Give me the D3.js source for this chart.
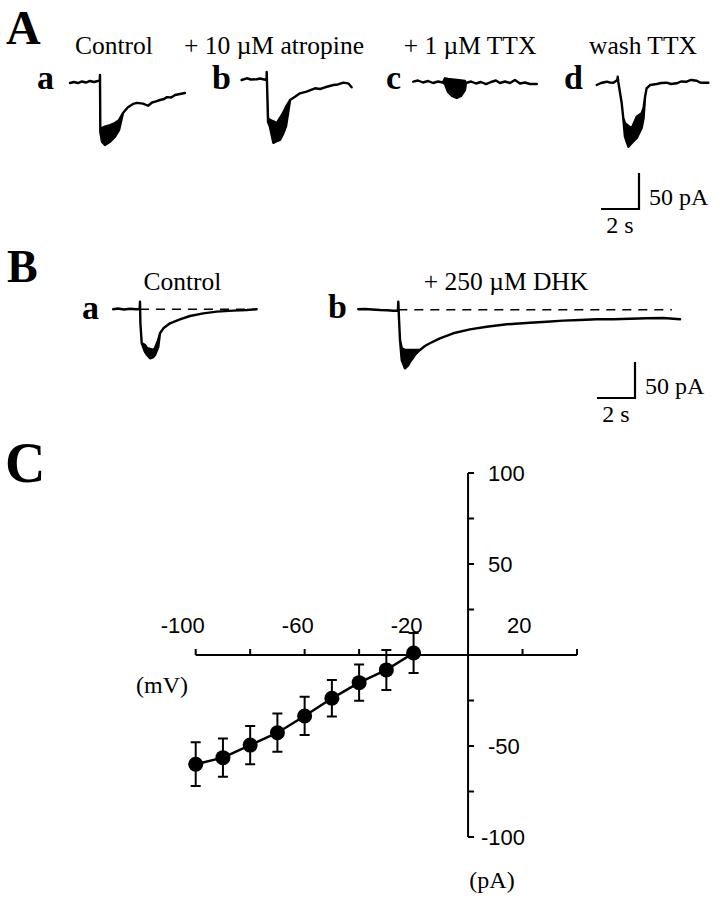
<!DOCTYPE html>
<html><head><meta charset="utf-8">
<script src="https://cdn.jsdelivr.net/npm/d3@7"></script>
<style>body{margin:0;background:#fff}svg{display:block}</style>
</head><body>
<script>
// ---------- DATA ----------
// Traces: [time (s, relative to stimulus), upper current (pA), lower current (pA)]
const traceAa = [[-1.58,-1.4,-1.4],[-1.37,0,0],[-1.16,-1.4,-1.4],[-0.95,0.7,0.7],[-0.74,-0.7,-0.7],[-0.53,1.4,1.4],[-0.32,0,0],[-0.11,1.4,1.4],[-0.01,2.8,2.8],[0,9.7,9.7],[0.016,-64,-69],[0.105,-64,-83],[0.26,-62,-87.5],[0.53,-60,-83],[0.79,-57,-76],[1.0,-53,-67],[1.21,-43,-43],[1.47,-35,-35],[1.74,-30.5,-30.5],[1.95,-29,-29],[2.26,-30,-30],[2.53,-33,-33],[2.74,-28.5,-28.5],[2.95,-27,-27],[3.16,-25,-25],[3.37,-23.6,-23.6],[3.53,-21,-21],[3.74,-21.5,-21.5],[3.95,-18,-18],[4.21,-16.7,-16.7],[4.47,-15.3,-15.3]];
const traceAb = [[-1.32,-0.7,-0.7],[-1.05,1.7,1.7],[-0.83,0,0],[-0.53,0.3,0.3],[-0.35,1.4,1.4],[-0.18,0.3,0.3],[-0.01,-0.7,-0.7],[0,10.4,10.4],[0.07,-53.5,-59],[0.17,-56,-65.5],[0.35,-58,-88],[0.53,-60.5,-85.5],[0.7,-53.5,-84],[0.86,-46.5,-75.7],[1.02,-37.8,-64.6],[1.23,-28.5,-28.5],[1.49,-23.9,-23.9],[1.75,-19.2,-19.2],[2.1,-16.9,-16.9],[2.54,-12.2,-12.2],[2.81,-13.2,-13.2],[3.07,-10.8,-10.8],[3.51,-7.6,-7.6],[3.75,-6.9,-6.9],[4.04,-4.4,-4.4],[4.29,-5.3,-5.3],[4.47,-10.8,-10.8]];
const traceAc = [[-1.67,0.4,0.4],[-1.42,2.1,2.1],[-1.16,-0.7,-0.7],[-0.89,1.4,1.4],[-0.63,-1.4,-1.4],[-0.37,0.7,0.7],[-0.11,-0.7,-0.7],[0,5.1,-2.8],[0.16,4.2,-13.9],[0.37,3.5,-19.4],[0.62,2.8,-22.2],[0.84,2.1,-19.4],[1.05,1.4,-11.1],[1.1,-1.4,-1.4],[1.37,0.7,0.7],[1.63,-2.1,-2.1],[1.89,0,0],[2.16,-2.8,-2.8],[2.42,0,0],[2.68,2.1,2.1],[2.89,-1.4,-1.4],[3.16,0.7,0.7],[3.42,-1.4,-1.4],[3.68,2.8,2.8],[3.95,-2.1,-2.1],[4.21,-0.7,-0.7],[4.47,-2.8,-2.8],[4.83,-2.8,-2.8]];
const traceAd = [[-1.14,-3.5,-3.5],[-0.91,-0.7,-0.7],[-0.61,1.1,1.1],[-0.44,0,0],[-0.26,-0.3,-0.3],[-0.05,3.5,3.5],[-0.03,8.1,8.1],[0,0.7,0.7],[0.18,-28.9,-28.9],[0.26,-49.3,-49.3],[0.35,-56.3,-75.3],[0.53,-60.4,-89.2],[0.71,-63.6,-84],[0.97,-47.5,-77],[1.23,-42.8,-63.2],[1.33,-35.4,-49.3],[1.41,-19.7,-19.7],[1.49,-8.1,-8.1],[1.67,-3.5,-3.5],[2.02,-2.1,-2.1],[2.25,-0.7,-0.7],[2.55,-0.3,-0.3],[2.77,-2.1,-2.1],[3.07,-1.1,-1.1],[3.3,1.4,1.4],[3.6,1.1,1.1],[3.83,3.5,3.5],[4.13,2.5,2.5],[4.3,0,0],[4.47,-0.3,-0.3],[4.74,-0.3,-0.3]];
const traceBa = [[-1.41,0,0],[-1.16,1.1,1.1],[-0.84,-0.3,-0.3],[-0.53,0.7,0.7],[-0.21,0,0],[-0.02,0,0],[0,10.6,10.6],[0.02,-19,-19],[0.09,-46.8,-46.8],[0.26,-49.6,-58.9],[0.37,-53.8,-63.5],[0.53,-55.1,-68],[0.7,-56.5,-66.3],[0.79,-53.8,-63.5],[0.96,-42.6,-52.4],[1.05,-33.3,-33.3],[1.23,-26.4,-26.4],[1.58,-19.4,-19.4],[2.1,-13.9,-13.9],[2.63,-9.3,-9.3],[3.33,-5.6,-5.6],[4.04,-3.3,-3.3],[4.91,-1.9,-1.9],[5.62,-1,-1],[6.14,0,0]];
const traceBb = [[-2.11,0.7,0.7],[-1.75,1.1,1.1],[-1.38,0.4,0.4],[-0.96,-0.3,-0.3],[-0.59,-0.7,-0.7],[-0.26,-1.3,-1.3],[-0.02,-1,-1],[0,11.3,11.3],[0.04,-14.2,-14.2],[0.09,-41.9,-41.9],[0.18,-53,-69.7],[0.35,-55.8,-81.3],[0.53,-55.8,-76.7],[0.62,-55.8,-72],[0.77,-55.8,-67],[0.87,-55.8,-62.8],[1.14,-55.8,-55.8],[1.4,-50.3,-50.3],[1.66,-46.5,-46.5],[2.19,-39.6,-39.6],[2.89,-32.6,-32.6],[3.77,-27.1,-27.1],[4.65,-23.5,-23.5],[5.71,-20.1,-20.1],[6.93,-17.9,-17.9],[7.81,-16.5,-16.5],[8.68,-15.1,-15.1],[9.56,-14.2,-14.2],[10.44,-13.2,-13.2],[11.32,-13.2,-13.2],[12.2,-12.4,-12.4],[13.07,-11.8,-11.8],[13.95,-11.4,-11.4],[14.83,-13.2,-13.2]];
const labelsA = ["Control", "+ 10 \u00b5M atropine", "+ 1 \u00b5M TTX", "wash TTX"];
const lettersA = ["a", "b", "c", "d"];
const labelsB = ["Control", "+ 250 \u00b5M DHK"];
const lettersB = ["a", "b"];
const scaleBarCurrent = 50; // pA
const scaleBarTime = 2;     // s
// I-V relation
const voltages = [-100, -90, -80, -70, -60, -50, -40, -30, -20];
const currents = [-60, -56.4, -49.5, -42.7, -33.5, -23.8, -15.2, -8.2, 1.1];
const sem = [12, 10.5, 10.5, 10.5, 10.5, 10, 10, 11, 11];
const xTicks = [-100, -80, -60, -40, -20, 20, 40];
const xTickLabels = [-100, -60, -20, 20];
const yTicks = [-100, -75, -50, -25, 25, 50, 75, 100];
const yTickLabels = [100, 50, -50, -100];

// ---------- DRAW ----------
const W = 726, H = 899;
const svg = d3.select("body").append("svg").attr("width", W).attr("height", H);
svg.append("rect").attr("width", W).attr("height", H).attr("fill", "#fff");
const serif = "'Liberation Serif', 'Times New Roman', serif";
const sans = "'Liberation Sans', Arial, sans-serif";

function panelLetter(t, x, y, size) {
  svg.append("text").attr("x", x).attr("y", y).text(t)
    .attr("font-family", serif).attr("font-weight", "bold").attr("font-size", size);
}
function label(t, x, y, size, anchor) {
  svg.append("text").attr("x", x).attr("y", y).text(t)
    .attr("font-family", serif).attr("font-size", size).attr("text-anchor", anchor || "start");
}

// time/current scales for traces (px per unit)
const pxPerS = 19, pxPerPA = 0.72;
function drawTrace(data, stimX, baseY, dashEnd) {
  const x = d3.scaleLinear().domain([0, 1]).range([stimX, stimX + pxPerS]);
  const y = d3.scaleLinear().domain([0, -1]).range([baseY, baseY + pxPerPA]);
  const area = d3.area().x(d => x(d[0])).y0(d => y(d[1])).y1(d => y(d[2]));
  svg.append("path").datum(data).attr("d", area)
    .attr("fill", "#000").attr("stroke", "#000").attr("stroke-width", 2.4)
    .attr("stroke-linejoin", "round");
  if (dashEnd !== undefined) {
    svg.append("line").attr("x1", x(0)).attr("x2", x(dashEnd)).attr("y1", y(0)).attr("y2", y(0))
      .attr("stroke", "#000").attr("stroke-width", 1.6).attr("stroke-dasharray", "9,7");
  }
}
function scaleBar(x0, y0) {
  const sx = d3.scaleLinear().domain([0, 1]).range([0, pxPerS]);
  const sy = d3.scaleLinear().domain([0, 1]).range([0, pxPerPA]);
  const h = sy(scaleBarCurrent), w = sx(scaleBarTime);
  svg.append("path").attr("d", `M${x0 - w},${y0}H${x0}V${y0 - h}`)
    .attr("fill", "none").attr("stroke", "#000").attr("stroke-width", 2.2);
  label(scaleBarCurrent + " pA", x0 + 10, y0 - 4, 24);
  label(scaleBarTime + " s", x0 - w / 2, y0 + 24, 24, "middle");
}

// Panel A
panelLetter("A", 6, 44, 48);
const aLabelX = [114, 274, 470, 643];
labelsA.forEach((t, i) => label(t, aLabelX[i], 54, 25.5, "middle"));
const aLetterX = [37, 212, 386, 564];
lettersA.forEach((t, i) => panelLetter(t, aLetterX[i], 89, 34));
drawTrace(traceAa, 100, 82);
drawTrace(traceAb, 266.7, 79.5);
drawTrace(traceAc, 445, 82);
drawTrace(traceAd, 618.3, 82.5);
scaleBar(639, 209);

// Panel B
panelLetter("B", 7, 282, 46);
label(labelsB[0], 182.5, 290, 25.5, "middle");
label(labelsB[1], 506, 290, 25.5, "middle");
panelLetter(lettersB[0], 82, 319, 34);
panelLetter(lettersB[1], 328, 318, 34);
drawTrace(traceBa, 140, 309.3, 6.1);
drawTrace(traceBb, 398.3, 309.8, 14.4);
scaleBar(635, 398);

// Panel C
panelLetter("C", 5, 482, 56);
const xC = d3.scaleLinear().domain([-100, 40]).range([195.7, 577]);
const yC = d3.scaleLinear().domain([-100, 100]).range([837, 473]);
const g = svg.append("g");
g.append("line").attr("x1", xC(-100)).attr("x2", xC(40)).attr("y1", yC(0)).attr("y2", yC(0))
  .attr("stroke", "#000").attr("stroke-width", 2);
g.append("line").attr("x1", xC(0)).attr("x2", xC(0)).attr("y1", yC(100)).attr("y2", yC(-100))
  .attr("stroke", "#000").attr("stroke-width", 2);
xTicks.forEach(v => g.append("line").attr("x1", xC(v)).attr("x2", xC(v))
  .attr("y1", yC(0)).attr("y2", yC(0) - 6).attr("stroke", "#000").attr("stroke-width", 2));
yTicks.forEach(v => g.append("line").attr("x1", xC(0)).attr("x2", xC(0) + 6)
  .attr("y1", yC(v)).attr("y2", yC(v)).attr("stroke", "#000").attr("stroke-width", 2));
xTickLabels.forEach(v => g.append("text").attr("x", xC(v) + 9).attr("y", yC(0) - 22)
  .attr("text-anchor", "end").attr("font-family", sans).attr("font-size", 22).text(v));
yTickLabels.forEach(v => g.append("text").attr("x", xC(0) + (v === -100 ? 13 : 20)).attr("y", yC(v) + 8)
  .attr("font-family", sans).attr("font-size", 22).text(v));
label("(mV)", 188, 693, 24, "end");
label("(pA)", 492, 888, 24, "middle");
const pts = voltages.map((v, i) => ({ v, c: currents[i], e: sem[i] }));
g.append("path").datum(pts).attr("d", d3.line().x(d => xC(d.v)).y(d => yC(d.c)))
  .attr("fill", "none").attr("stroke", "#000").attr("stroke-width", 2.5);
pts.forEach(d => {
  const x = xC(d.v), y1 = yC(d.c + d.e), y2 = yC(d.c - d.e);
  g.append("path").attr("d", `M${x},${y1}V${y2}M${x - 5},${y1}H${x + 5}M${x - 5},${y2}H${x + 5}`)
    .attr("stroke", "#000").attr("stroke-width", 2).attr("fill", "none");
});
g.selectAll("circle.pt").data(pts).enter().append("circle")
  .attr("cx", d => xC(d.v)).attr("cy", d => yC(d.c)).attr("r", 7.5).attr("fill", "#000");
</script>
</body></html>
